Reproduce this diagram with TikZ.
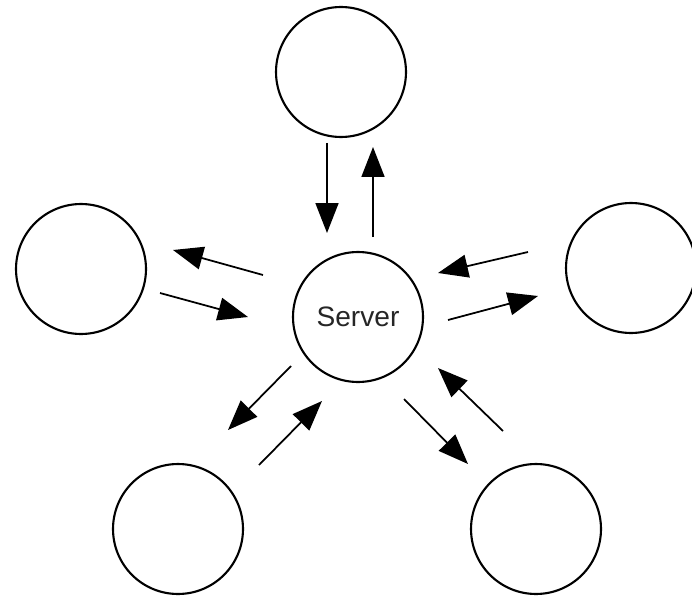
\documentclass[tikz,border=0pt]{standalone}
\usepackage{fontspec}
\setmainfont{Liberation Sans}
\usepackage{tikz}
\usetikzlibrary{arrows.meta}
\tikzset{
  host/.style={draw=black, circle, line width=1.2pt, minimum size=2.6cm, inner sep=0pt},
  flow/.style={draw=black, line width=1pt, -{Triangle[length=0.6cm, width=0.46cm]}},
  lab/.style={font=\fontsize{16}{18}\selectfont, text=black!85},
}

\begin{document}
\begin{tikzpicture}[x=0.02cm, y=-0.02cm]
  \useasboundingbox (0,0) rectangle (692,601);

  % server and the five clients round it
  \node[host, lab] (srv) at (358,317) {Server};
  \node[host] (top) at (341,72) {};
  \node[host] (lft) at (81,269) {};
  \node[host] (rgt) at (631,268) {};
  \node[host] (bl)  at (178,529) {};
  \node[host] (br)  at (536,529) {};

  % arrow end points, one pair per client
  \coordinate (t1) at (327,143); \coordinate (t2) at (327,233);
  \coordinate (t3) at (373,237); \coordinate (t4) at (373,147);
  \coordinate (l1) at (263,275); \coordinate (l2) at (173,250);
  \coordinate (l3) at (160,293); \coordinate (l4) at (248,317);
  \coordinate (r1) at (528,252); \coordinate (r2) at (438,273);
  \coordinate (r3) at (448,320); \coordinate (r4) at (538,296);
  \coordinate (a1) at (291,366); \coordinate (a2) at (228,430);
  \coordinate (a3) at (259,465); \coordinate (a4) at (322,401);
  \coordinate (b1) at (404,399); \coordinate (b2) at (468,464);
  \coordinate (b3) at (503,431); \coordinate (b4) at (438,368);

  \draw[flow] (t1) -- (t2);
  \draw[flow] (t3) -- (t4);
  \draw[flow] (l1) -- (l2);
  \draw[flow] (l3) -- (l4);
  \draw[flow] (r1) -- (r2);
  \draw[flow] (r3) -- (r4);
  \draw[flow] (a1) -- (a2);
  \draw[flow] (a3) -- (a4);
  \draw[flow] (b1) -- (b2);
  \draw[flow] (b3) -- (b4);
\end{tikzpicture}
\end{document}
